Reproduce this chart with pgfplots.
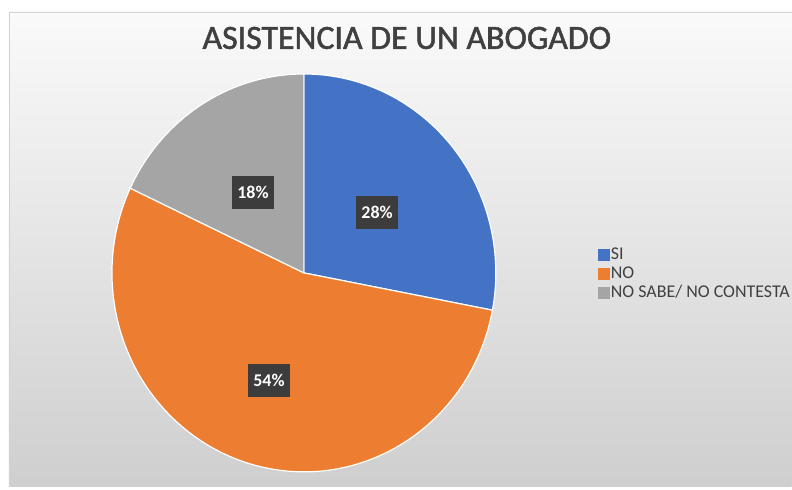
\documentclass[border=0pt]{standalone}
\usepackage{pgfplots}
\pgfplotsset{compat=1.18}
\usepackage{pgfplotstable}
\usetikzlibrary{calc}
\usepackage{fontspec}
\setmainfont{Carlito}
\newfontfamily\titlefont[FakeBold=1.5]{Carlito}
\definecolor{cSI}{HTML}{4472C4}
\definecolor{cNO}{HTML}{ED7D31}
\definecolor{cNS}{HTML}{A5A5A5}
\definecolor{labbg}{HTML}{3C3C3C}
\definecolor{titc}{HTML}{404040}

\pgfplotstableread{
name value
SI 28
NO 54
NS 18
}\piedata

\pgfplotstablegetelem{0}{value}\of\piedata \let\vA\pgfplotsretval
\pgfplotstablegetelem{1}{value}\of\piedata \let\vB\pgfplotsretval
\pgfplotstablegetelem{2}{value}\of\piedata \let\vC\pgfplotsretval
\pgfmathsetmacro{\aO}{90}
\pgfmathsetmacro{\aA}{90-3.6*\vA}
\pgfmathsetmacro{\aB}{\aA-3.6*\vB}
\pgfmathsetmacro{\aC}{\aB-3.6*\vC}
\pgfmathsetmacro{\mA}{(\aO+\aA)/2}
\pgfmathsetmacro{\mB}{(\aA+\aB)/2}
\pgfmathsetmacro{\mC}{(\aB+\aC)/2}

\begin{document}
\begin{tikzpicture}
\begin{axis}[
  width=792bp, height=487bp, scale only axis,
  xmin=0, xmax=792, ymin=0, ymax=487, y dir=reverse,
  hide axis, clip=false,
  legend style={at={(axis cs:598,246)}, anchor=north west, draw=none, fill=none,
    font=\fontsize{18}{18}\selectfont\color{titc}, row sep=1bp,
    inner sep=0pt, cells={anchor=west},
    nodes={inner sep=1bp, text height=12bp, text depth=4bp}},
  legend image code/.code={\fill[#1] (0bp,-5.5bp) rectangle (11.5bp,6bp);},
  legend image post style={xshift=-2bp},
]
\fill[white] (axis cs:0,0) rectangle (axis cs:792,487);
\shade[top color=white!96!gray, bottom color=gray!38] (axis cs:9,12) rectangle (axis cs:792,487);
\draw[gray!35, line width=0.6bp] (axis cs:9,487) -- (axis cs:9,12) -- (axis cs:792,12);
\addlegendimage{cSI}\addlegendentry{SI}
\addlegendimage{cNO}\addlegendentry{NO}
\addlegendimage{cNS}\addlegendentry{NO SABE/ NO CONTESTA}
\filldraw[fill=cSI, draw=white, line width=1.2bp] (axis cs:304,273) -- ++(\aO:192bp and 199bp) arc[start angle=\aO, end angle=\aA, x radius=192bp, y radius=199bp] -- cycle;
\filldraw[fill=cNO, draw=white, line width=1.2bp] (axis cs:304,273) -- ++(\aA:192bp and 199bp) arc[start angle=\aA, end angle=\aB, x radius=192bp, y radius=199bp] -- cycle;
\filldraw[fill=cNS, draw=white, line width=1.2bp] (axis cs:304,273) -- ++(\aB:192bp and 199bp) arc[start angle=\aB, end angle=\aC, x radius=192bp, y radius=199bp] -- cycle;
\tikzset{lab/.style={fill=labbg, text=white, font=\fontsize{18}{20}\selectfont\bfseries, minimum width=42bp, minimum height=33bp, inner sep=2bp}}
\node[lab] at ($(axis cs:304,273)+(\mA:95bp)$) {\vA\%};
\node[lab] at ($(axis cs:304,273)+(\mB:113bp)$) {\vB\%};
\node[lab] at ($(axis cs:304,273)+(\mC:95bp)$) {\vC\%};
\node[font=\titlefont\fontsize{34}{36}\selectfont, text=titc] at (axis cs:407,38) {ASISTENCIA DE UN ABOGADO};
\end{axis}
\end{tikzpicture}
\end{document}
